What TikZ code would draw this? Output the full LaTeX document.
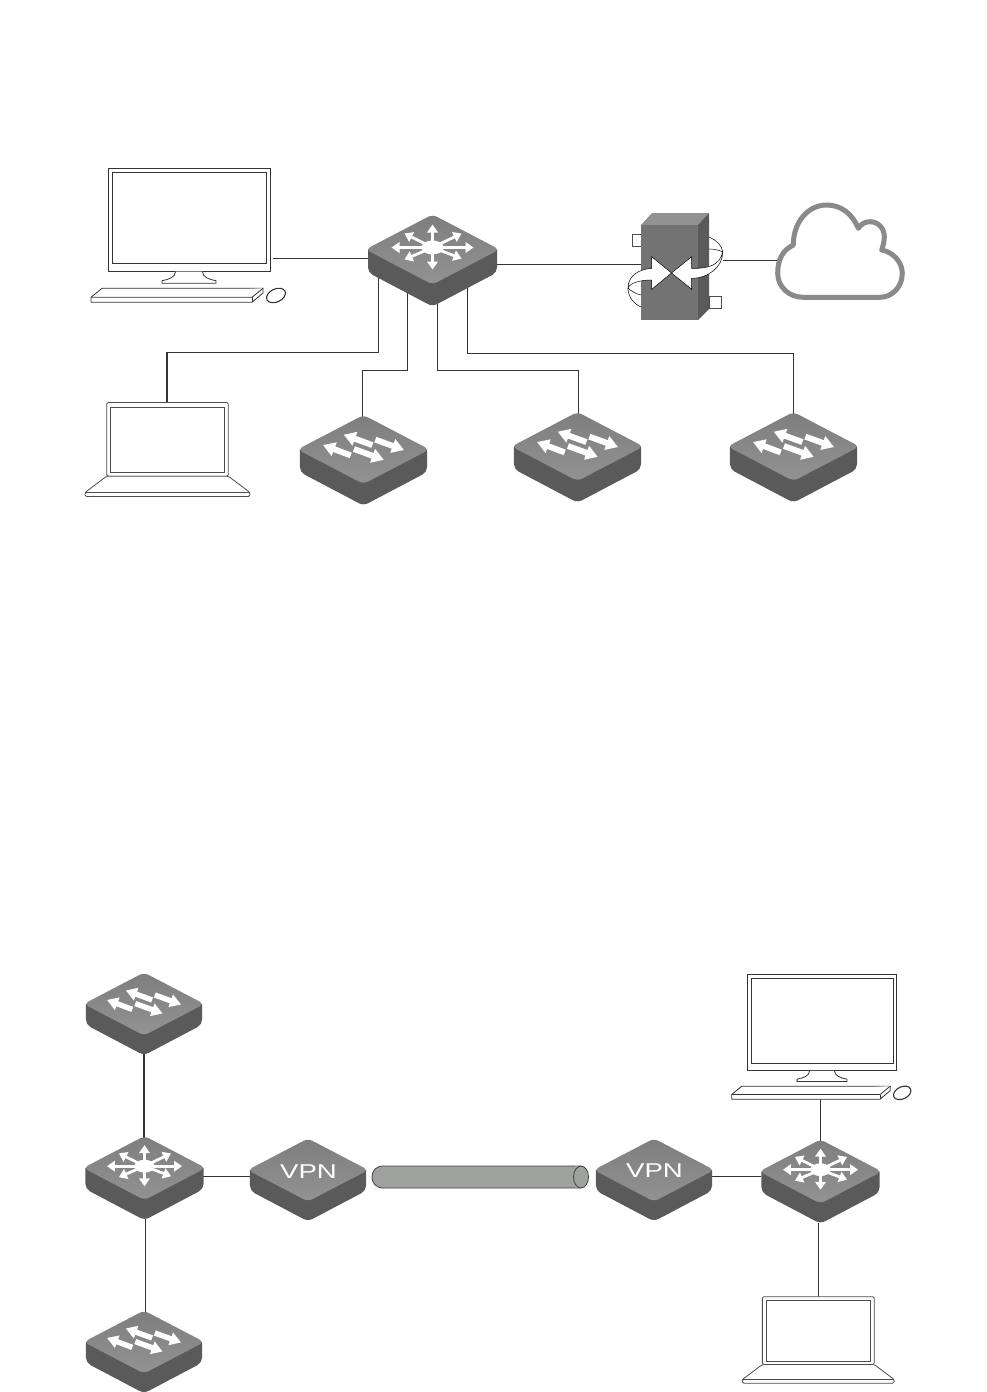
\documentclass[tikz,border=0pt]{standalone}
\usepackage{fontspec}
\usepackage{xcolor}
\setmainfont{Liberation Sans}
\usetikzlibrary{arrows.meta,calc}
\definecolor{facetop}{HTML}{7E7E7E}
\definecolor{facelow}{HTML}{929292}
\definecolor{sidegray}{HTML}{5B5A5A}
\definecolor{cloudgray}{HTML}{8A8A8A}
\definecolor{tubegray}{HTML}{A0A2A0}
\definecolor{wiregray}{HTML}{333333}
\newcommand{\devbase}{
  \fill[sidegray] (-64.5,0)[rounded corners=5pt]--(-64.5,23)--(0,57)--(64.5,23)[sharp corners]--(64.5,0)--(0,10)--cycle;
  \shade[top color=facetop,bottom color=facelow,rounded corners=5pt] (-67,0)--(0,-35)--(67,0)--(0,35)--cycle;
}
\newcommand{\fatarrow}[2]{
  \fill[white] ($(#1)!3pt!90:(#2)$) -- ($(#1)!3pt!-90:(#2)$)
    -- ($(#2)!12pt!(#1)!3pt!90:(#1)$) -- ($(#2)!12pt!(#1)!7.5pt!90:(#1)$) -- (#2)
    -- ($(#2)!12pt!(#1)!7.5pt!-90:(#1)$) -- ($(#2)!12pt!(#1)!3pt!-90:(#1)$) -- cycle;
}
\tikzset{
  wire/.style={draw=wiregray,line width=0.7pt},
  wirebold/.style={draw=wiregray,line width=1.3pt},
  outline/.style={draw=black!80,line width=0.8pt,fill=white},
  glyphthin/.style={white,line width=2.8pt,-{Triangle[width=10.5pt,length=8pt]}},
  pics/routersw/.style={code={
    \devbase
    \foreach \dx/\dy in {0/-25,0/20,-41/-2,41/-2,29/-16,-28/-16,29/9,-28/10}
      \draw[glyphthin] (0,-2)--(\dx,\dy);
    \fill[white] (0,-2) ellipse [x radius=11pt,y radius=7pt];
  }},
  pics/accesssw/.style={code={
    \devbase
    \fatarrow{-13,6}{-41,-4.5}
    \fatarrow{9,-4.5}{-20,-15}
    \fatarrow{12,-10}{41,0.5}
    \fatarrow{-9.7,-0.5}{20.5,10.5}
  }},
  pics/vpnbox/.style={code={\devbase}},
  pics/screenset/.style={code={
    \draw[outline] (-81,0) rectangle (81,103.7);
    \draw[outline] (-77,4) rectangle (77,95.3);
    \draw[outline] (-13.5,103.7) .. controls (-13.5,109) and (-20,111.5) .. (-27,112.7)
      -- (-27,115.3) -- (27,115.3) -- (27,112.7) .. controls (20,111.5) and (13.5,109) .. (13.5,103.7);
    \draw[outline] (-87,120.3)--(74,120.3)--(74,125)--(63,134.3)--(-98,134.3)--(-98,129.3)--cycle;
    \draw[outline] (-98,129.3)--(63,129.3)--(74,120.3);
    \draw[outline] (63,129.3)--(63,134.3);
    \draw[outline,line width=1.1pt,rotate around={25:(87,127.5)}] (87,127.5) ellipse [x radius=10pt,y radius=6.5pt];
  }},
  pics/laptopset/.style={code={
    \draw[outline,draw=black!70,rounded corners=2pt] (-60.8,73.7)--(-60.8,0)--(60.8,0)--(60.8,73.7)--cycle;
    \draw[outline,draw=black!70] (-56.8,4.4) rectangle (56.8,70);
    \draw[outline,draw=black!70,rounded corners=1.5pt] (-60.8,73.7)--(-82.5,90)--(-82.5,94)--(82.5,94)--(82.5,90)--(60.8,73.7)--cycle;
    \draw[draw=black!70,line width=0.8pt] (-82.5,90)--(82.5,90);
  }},
}
\begin{document}
\begin{tikzpicture}[x=1pt,y=-1pt]
\useasboundingbox (0,0) rectangle (987,1392);
% 端口定义
\coordinate (monA) at (273,258);
\coordinate (coreW) at (368,258);
\coordinate (coreE) at (497,264);
\coordinate (fwW) at (641,264);
\coordinate (fwE) at (723,260);
\coordinate (cloudW) at (777,260);
\coordinate (coreA) at (378.5,270);
\coordinate (coreB) at (407.5,285);
\coordinate (coreC) at (437,300);
\coordinate (coreD) at (467.5,285);
\coordinate (lapA) at (167,403);
\coordinate (swA) at (362,418);
\coordinate (swB) at (578.5,415);
\coordinate (swC) at (793,415);
\coordinate (swTop) at (144,1053);
\coordinate (hubL) at (144,1139);
\coordinate (hubLS) at (145.5,1219);
\coordinate (swLow) at (145.5,1314);
\coordinate (hubLE) at (203,1176.5);
\coordinate (vpnLW) at (250,1176.5);
\coordinate (vpnRE) at (712,1176.5);
\coordinate (hubRW) at (761,1176.5);
\coordinate (kbR) at (820,1098);
\coordinate (hubR) at (820,1142);
\coordinate (hubRS) at (818.5,1223);
\coordinate (lapR) at (818.5,1297);
% 连线
\draw[wire] (monA)--(coreW);
\draw[wire] (coreE)--(fwW);
\draw[wire] (fwE)--(cloudW);
\draw[wire] (coreA)--++(0,82)-|(lapA);
\draw[wirebold] (lapA)--++(0,-51);
\draw[wire] (coreB)--++(0,85)-|(swA);
\draw[wire] (coreC)--++(0,70)-|(swB);
\draw[wire] (coreD)--++(0,68)-|(swC);
\draw[wirebold] (swTop)--(hubL);
\draw[wire] (hubLS)--(swLow);
\draw[wire] (hubLE)--(vpnLW);
\draw[wire] (vpnRE)--(hubRW);
\draw[wire] (kbR)--(hubR);
\draw[wire] (hubRS)--(lapR);
% 上图设备
\pic at (189,168) {screenset};
\pic at (432.5,249.5) {routersw};
\pic at (167.5,402.5) {laptopset};
\pic[scale=0.985] at (363.5,449.5) {accesssw};
\pic[scale=0.985] at (577.5,446.5) {accesssw};
\pic[scale=0.985] at (793.5,446.5) {accesssw};
% 防火墙
\draw[black!70,line width=0.7pt,fill=white] (632,234) rectangle (641,246);
\draw[black!70,line width=0.7pt,fill=white] (709,296) rectangle (721,308);
\draw[black,line width=0.5pt] (722.7,252)..controls (722,245) and (716,240)..(709,237);
\draw[black,line width=0.5pt] (722.7,252)..controls (719,250) and (714,249)..(709,249);
\fill[facelow] (641,225)--(652,213)--(709,213)--(698,225)--cycle;
\fill[sidegray] (698,225)--(709,213)--(709,309)--(698,320)--cycle;
\fill[black!55] (641,225) rectangle (698,320);
\draw[black,line width=0.5pt,fill=white] (671.5,273)--(651.7,256.7)--(651.7,268.3)
  ..controls (640,269) and (628,275) .. (628,288)
  ..controls (630,283) and (640,280) .. (651.7,280)
  --(651.7,289.3)--cycle;
\draw[black,line width=0.5pt,fill=white] (671.5,273)--(691.7,256.7)--(691.7,268.3)
  ..controls (708,269) and (720,265) .. (722.7,252)
  ..controls (723,267) and (708,278.3) .. (691.7,278.3)
  --(691.7,289.3)--cycle;
\draw[black,line width=0.5pt] (628,288)..controls (628,297) and (634,304)..(641,307);
\draw[black,line width=0.5pt] (628,288)..controls (631,291) and (636,294)..(641,295);
% 云
\draw[cloudgray,line width=5pt,fill=white,line join=round] (803.3,297.3)
  ..controls (789,297.3) and (777.7,287)..(777.7,273.3)
  ..controls (777.7,259) and (783,250)..(793.3,245)
  ..controls (793.3,222) and (808,205)..(826.7,205)
  ..controls (842,205) and (853,215)..(858.3,228.3)
  ..controls (861,224) and (865,221.7)..(870,221.7)
  ..controls (878,221.7) and (884.3,228)..(884.3,236.7)
  ..controls (884.3,242) and (883,246)..(881.7,250)
  ..controls (893,252) and (902.3,262)..(902.3,273.3)
  ..controls (902.3,287) and (892,297.3)..(880,297.3)
  --cycle;
% 下图设备
\pic[scale=0.9] at (144,1004) {accesssw};
\pic[scale=0.915] at (144.5,1168) {routersw};
\pic[scale=0.9] at (144,1342) {accesssw};
\pic[scale=0.9] at (308,1170) {vpnbox};
\pic[scale=0.9] at (654,1170) {vpnbox};
\pic[scale=0.915] at (820.5,1171.5) {routersw};
\node[font=\fontsize{20}{22}\selectfont,text=white,inner sep=0pt,xscale=1.38,transform shape] (vpnL) at (308.5,1171.5) {VPN};
\node[font=\fontsize{20}{22}\selectfont,text=white,inner sep=0pt,xscale=1.38,transform shape] (vpnR) at (654.5,1171) {VPN};
% 隧道
\draw[black!75,line width=0.8pt,fill=tubegray,rounded corners=10.5pt] (581,1166)--(372,1166)--(372,1188)--(581,1188);
\fill[tubegray] (575,1166.4) rectangle (582,1187.6);
\draw[black!75,line width=0.8pt,fill=tubegray] (581,1177) ellipse [x radius=7.5pt,y radius=11pt];
\pic at (822,974.3) [xscale=0.922,yscale=0.93] {screenset};
\pic[scale=0.92] at (818.3,1296.7) {laptopset};
\end{tikzpicture}
\end{document}
